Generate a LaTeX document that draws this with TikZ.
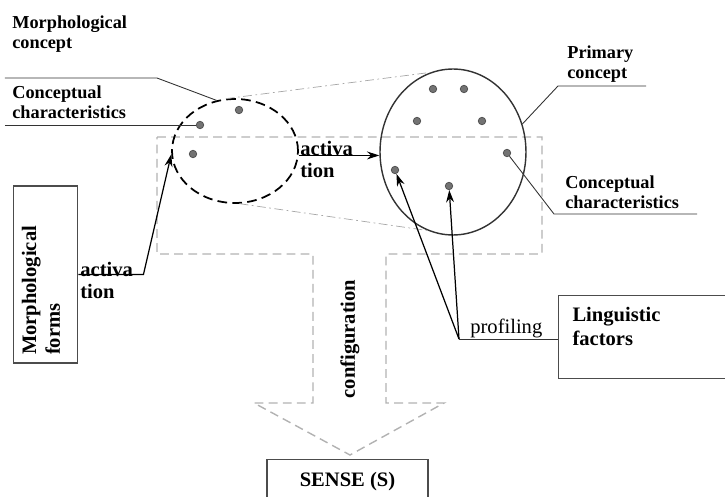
\documentclass[tikz,border=0pt]{standalone}
\usepackage{fontspec}
\setmainfont{Liberation Serif}
\usetikzlibrary{arrows.meta}
\usetikzlibrary{shapes.geometric}

\begin{document}
\begin{tikzpicture}[x=0.02cm, y=-0.02cm,
    every node/.style={inner sep=0pt},
    small/.style={font=\fontsize{10.4}{11.8}\selectfont\bfseries, align=left, anchor=north west},
    big/.style={font=\fontsize{11.7}{12.5}\selectfont\bfseries, align=left},
    dot/.style={circle, draw=black!70, fill=gray!90!black, minimum size=0.15cm},
    frame/.style={draw=black!70, line width=0.6pt},
    leader/.style={black!80, line width=0.5pt},
    pointer/.style={-{Stealth[length=7pt, width=4.5pt]}, line width=0.7pt},
    ghost/.style={gray!70, line width=0.4pt, dash pattern=on 5pt off 2pt on 1pt off 2pt}]
  \useasboundingbox (0,0) rectangle (725,497);

  % Gray T-shaped frame (configuration arrow)
  \draw[gray!60, line width=0.8pt, dash pattern=on 5pt off 3pt]
    (157,137) -- (542,137) -- (542,254) -- (386,254) -- (386,403) -- (444,403)
    -- (350,455) -- (254,403) -- (313,403) -- (313,254) -- (157,254) -- cycle;
  \node[big, rotate=90] (config) at (350,339) {configuration};

  % Morphological concept (dashed)
  \node[ellipse, draw, line width=1pt, dash pattern=on 5.5pt off 3pt,
        minimum width=2.52cm, minimum height=2.08cm] (morph) at (235,151) {};
  \node[dot] (m1) at (239,110) {};
  \node[dot] (m2) at (200,125) {};
  \node[dot] (m3) at (193,154) {};

  % Primary concept
  \node[ellipse, draw=black!80, line width=0.8pt,
        minimum width=2.92cm, minimum height=3.32cm] (prim) at (453,152) {};
  \foreach \n/\x/\y in {1/433/89, 2/464/89, 3/417/121, 4/482/121, 5/507/153, 6/395/170, 7/449/186}
    \node[dot] (p\n) at (\x,\y) {};

  % zoom lines
  \draw[ghost] (morph.100) -- (prim.106);
  \draw[ghost] (morph.-85) -- (prim.-108);

  % Labels with leaders
  \node[small] (mctext) at (12,15) {Morphological\\concept};
  \coordinate (mcend) at (5,78);
  \draw[leader] (mcend) -- ++(152,0) -- (morph.110);

  \node[small] (cctext) at (12,85) {Conceptual\\characteristics};
  \coordinate (ccend) at (5,125);
  \draw[leader] (ccend) -- (m2);

  \node[small] (pctext) at (567,45) {Primary\\concept};
  \coordinate (pcend) at (646,86);
  \draw[leader] (pcend) -- ++(-88,0) -- (prim.22);

  \node[small] (cc2text) at (565,175) {Conceptual\\characteristics};
  \coordinate (cc2end) at (697,214);
  \draw[leader] (cc2end) -- ++(-143,0) -- (p5);

  % Morphological forms
  \node[frame, big, font=\fontsize{11.7}{13.6}\selectfont\bfseries, rotate=90,
        text width=3.22cm, inner xsep=0.16cm, inner ysep=5.1pt,
        text height=8pt, text depth=18.7pt] (forms) at (45.5,274.5) {Morphological\\forms};
  \node[big, anchor=north west] (act1) at (80,262) {activa\\tion};
  \draw[pointer] (forms.south) -- ++(65,0) -- (morph.183);

  % activation between concepts
  \node[big, anchor=north west] (act2) at (300,141) {activa\\tion};
  \draw[pointer] (morph.-4) -- (morph.-4 -| prim.west);

  % Linguistic factors
  \node[frame, font=\fontsize{11.7}{14}\selectfont\bfseries, align=left, anchor=north west,
        text width=3.48cm, inner xsep=0.28cm, inner ysep=6.5pt,
        text height=8pt, text depth=26pt] (ling) at (558,295) {Linguistic\\factors};
  \node[font=\fontsize{11.7}{13}\selectfont, anchor=base west] (proftext) at (470,334) {profiling};
  \coordinate (prof) at (459,339);
  \draw[leader] (ling.west |- prof) -- (prof);
  \draw[pointer] (prof) -- (p6);
  \draw[pointer] (prof) -- (p7);

  % Sense
  \node[frame, font=\fontsize{11.7}{13}\selectfont\bfseries, anchor=north,
        minimum width=3.22cm, inner ysep=7.4pt,
        text height=7.8pt, text depth=20pt] (sense) at (347.5,459) {SENSE (S)};
\end{tikzpicture}
\end{document}
